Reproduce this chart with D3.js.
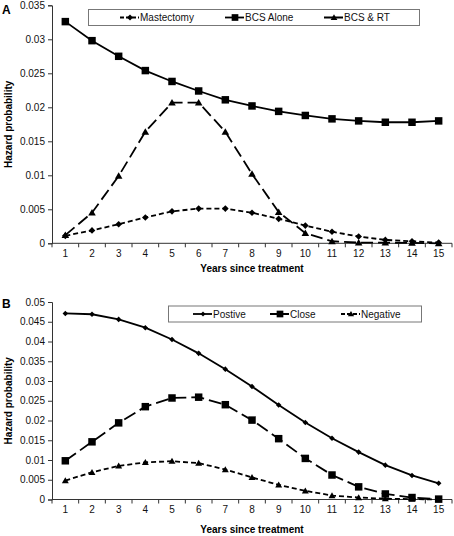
<!DOCTYPE html>
<html><head><meta charset="utf-8">
<script src="https://cdn.jsdelivr.net/npm/d3@7"></script>
<style>body{margin:0;background:#fff}svg{display:block;font-family:"Liberation Sans",Arial,sans-serif}</style>
</head><body>
<svg id="c" width="454" height="536"></svg>
<script>
const years = ["1","2","3","4","5","6","7","8","9","10","11","12","13","14","15"];
// Panel A
const mastectomy = [0.0011,0.0019,0.0028,0.0038,0.0047,0.0051,0.0051,0.0045,0.0036,0.0026,0.0017,0.0010,0.0005,0.0003,0.0001];
const bcsAlone   = [0.0326,0.0298,0.0275,0.0254,0.0238,0.0224,0.0211,0.0202,0.0194,0.0188,0.0183,0.0180,0.0178,0.0178,0.0180];
const bcsRT      = [0.0012,0.0045,0.0099,0.0164,0.0207,0.0207,0.0164,0.0102,0.0046,0.0015,0.0003,0.0001,0.0001,0.00005,0.0];
const ticksA = [0,0.005,0.01,0.015,0.02,0.025,0.03,0.035];
// Panel B
const postive  = [0.0471,0.0469,0.0456,0.0435,0.0405,0.0370,0.0330,0.0286,0.0239,0.0195,0.0155,0.0120,0.0087,0.0061,0.0041];
const close    = [0.0098,0.0146,0.0194,0.0235,0.0257,0.0259,0.0240,0.0201,0.0154,0.0104,0.0062,0.0032,0.0014,0.0005,0.0001];
const negative = [0.0048,0.0069,0.0085,0.0094,0.0097,0.0092,0.0076,0.0056,0.0037,0.0022,0.0010,0.0005,0.0002,0.0001,0.0];
const ticksB = [0,0.005,0.01,0.015,0.02,0.025,0.03,0.035,0.04,0.045,0.05];

const svg = d3.select("#c");
const diamond = {draw(ctx, size){const r=Math.sqrt(size)/2*1.05;ctx.moveTo(0,-r);ctx.lineTo(r,0);ctx.lineTo(0,r);ctx.lineTo(-r,0);ctx.closePath();}};
const square = {draw(ctx,size){const r=Math.sqrt(size)/2;ctx.rect(-r,-r,2*r,2*r);}};
const tri = {draw(ctx,size){const r=Math.sqrt(size)/2;ctx.moveTo(0,-r);ctx.lineTo(r*1.05,r*0.8);ctx.lineTo(-r*1.05,r*0.8);ctx.closePath();}};
const fmt = d => String(+d.toFixed(3));

function panel(o){
  const g = svg.append("g");
  const x = d3.scaleBand().domain(years).range([52,452]).padding(0);
  const y = d3.scaleLinear().domain(o.domain).range(o.yr);
  const cx = d => x(d)+x.bandwidth()/2;
  // y axis
  const ya = d3.axisLeft(y).tickValues(o.ticks).tickFormat(fmt).tickSizeOuter(0).tickSize(4).tickPadding(3);
  const yg = g.append("g").attr("transform","translate(52,0)").call(ya);
  yg.select(".domain").attr("stroke","#333");
  yg.selectAll(".tick line").attr("stroke","#333");
  yg.selectAll("text").attr("font-size",10).attr("fill","#111").attr("font-family","Liberation Sans, Arial");
  // x axis
  g.append("line").attr("x1",52).attr("x2",452).attr("y1",y(0)).attr("y2",y(0)).attr("stroke","#333");
  const bounds = years.map(d=>x(d)).concat([x.range()[1]]);
  g.selectAll(".xt").data(bounds).enter().append("line").attr("x1",d=>d).attr("x2",d=>d)
    .attr("y1",y(0)).attr("y2",y(0)+4).attr("stroke","#333");
  g.selectAll(".xl").data(years).enter().append("text").attr("x",cx).attr("y",y(0)+13.5)
    .attr("text-anchor","middle").attr("font-size",10).attr("fill","#111").text(d=>d);
  g.append("text").attr("x",252).attr("y",y(0)+o.titleDy).attr("text-anchor","middle")
    .attr("font-size",10).attr("font-weight","bold").text("Years since treatment");
  g.append("text").attr("transform",`translate(12,${(o.yr[0]+o.yr[1])/2}) rotate(-90)`)
    .attr("text-anchor","middle").attr("font-size",10).attr("font-weight","bold").text("Hazard probability");
  g.append("text").attr("x",2).attr("y",o.yr[1]+ (o.letterDy)).attr("font-size",12).attr("font-weight","bold").text(o.letter);
  // series
  o.series.forEach(s=>{
    const line = d3.line().x((d,i)=>cx(years[i])).y(d=>y(d));
    g.append("path").datum(s.values).attr("d",line).attr("fill","none").attr("stroke","#000")
      .attr("stroke-width",1.8).attr("stroke-dasharray",s.dash||null);
    g.selectAll(null).data(s.values).enter().append("path")
      .attr("transform",(d,i)=>`translate(${cx(years[i])},${y(d)})`)
      .attr("d",d3.symbol().type(s.sym).size(s.size)).attr("fill","#000");
  });
  // legend
  const lg = g.append("g");
  lg.append("rect").attr("x",o.leg.x).attr("y",o.leg.y).attr("width",o.leg.w).attr("height",o.leg.h)
    .attr("fill","#fff").attr("stroke","#777").attr("stroke-width",1);
  const ly = o.leg.y + o.leg.h/2;
  o.series.forEach((s,i)=>{
    const lx = o.leg.items[i];
    lg.append("line").attr("x1",lx).attr("x2",lx+19).attr("y1",ly).attr("y2",ly).attr("stroke","#000")
      .attr("stroke-width",1.8).attr("stroke-dasharray",s.ldash||null);
    lg.append("path").attr("transform",`translate(${lx+10},${ly})`).attr("d",d3.symbol().type(s.sym).size(s.size*0.8)).attr("fill","#000");
    lg.append("text").attr("x",lx+20).attr("y",ly+3.6).attr("font-size",10).attr("fill","#111").text(s.name);
  });
}

panel({domain:[0,0.035], yr:[243.3,5.3], ticks:ticksA, titleDy:29, letter:"A", letterDy:9,
  leg:{x:88.5,y:9.5,w:331,h:16,items:[120,225,324]},
  series:[
    {name:"Mastectomy", values:mastectomy, sym:diamond, size:40, dash:"5,3", ldash:"4,2"},
    {name:"BCS Alone", values:bcsAlone, sym:square, size:56, dash:null},
    {name:"BCS & RT", values:bcsRT, sym:tri, size:52, dash:"12,5", ldash:"9,2"}
  ]});
panel({domain:[0,0.05], yr:[499.5,302], ticks:ticksB, titleDy:33, letter:"B", letterDy:6,
  leg:{x:168.5,y:306,w:253,h:16,items:[193,270,341]},
  series:[
    {name:"Postive", values:postive, sym:diamond, size:28, dash:null},
    {name:"Close", values:close, sym:square, size:56, dash:"13,5", ldash:"9,2"},
    {name:"Negative", values:negative, sym:tri, size:44, dash:"5,3", ldash:"4,2"}
  ]});
</script>
</body></html>
